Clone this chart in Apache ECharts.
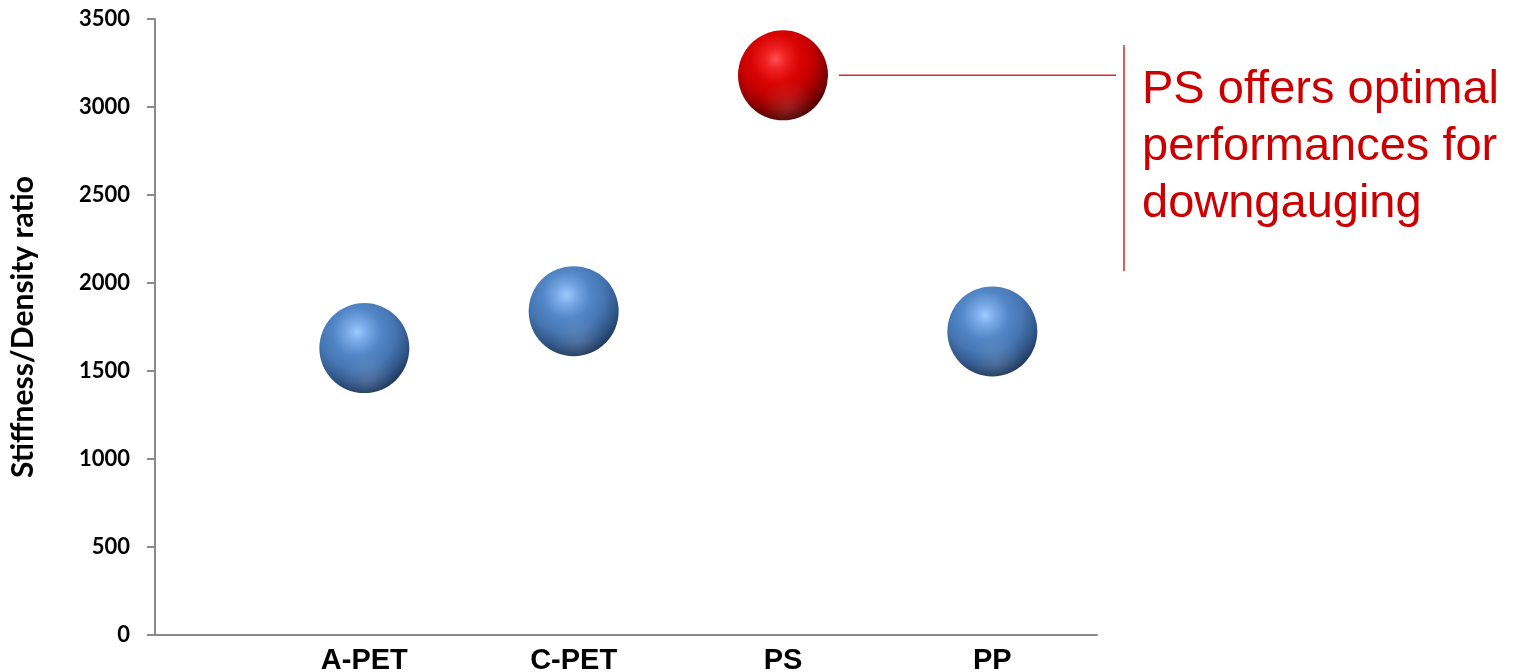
<!DOCTYPE html>
<html>
<head>
<meta charset="utf-8">
<script src="https://cdn.jsdelivr.net/npm/echarts@6/dist/echarts.min.js"></script>
<style>
  html, body { margin: 0; padding: 0; background: #ffffff; }
  #chart { width: 1514px; height: 672px; }
</style>
</head>
<body>
<div id="chart"></div>
<script>
// Materials and their stiffness-to-density ratio
const materials = ['A-PET', 'C-PET', 'PS', 'PP'];
const ratios = [1630, 1840, 3180, 1725];
const highlighted = 'PS';
const yTicks = [0, 500, 1000, 1500, 2000, 2500, 3000, 3500];
const calloutLines = ['PS offers optimal', 'performances for', 'downgauging'];

// Glossy sphere shading
const blueBall = new echarts.graphic.RadialGradient(0.42, 0.32, 0.76, [
  { offset: 0, color: '#9ccbff' },
  { offset: 0.15, color: '#78a9e6' },
  { offset: 0.35, color: '#5286c6' },
  { offset: 0.55, color: '#4676b3' },
  { offset: 0.74, color: '#33598c' },
  { offset: 0.89, color: '#1f3b60' },
  { offset: 1, color: '#0e1f35' }
]);
const redBall = new echarts.graphic.RadialGradient(0.42, 0.32, 0.76, [
  { offset: 0, color: '#ff5050' },
  { offset: 0.15, color: '#ef2222' },
  { offset: 0.35, color: '#da0404' },
  { offset: 0.55, color: '#c20000' },
  { offset: 0.74, color: '#8a0000' },
  { offset: 0.89, color: '#520000' },
  { offset: 1, color: '#260000' }
]);
const rimLight = new echarts.graphic.RadialGradient(0.55, 0.84, 0.3, [
  { offset: 0, color: 'rgba(255,255,255,0.12)' },
  { offset: 1, color: 'rgba(255,255,255,0)' }
]);

const points = materials.map((m, i) => ({
  value: [i + 1, ratios[i]],
  itemStyle: { color: m === highlighted ? redBall : blueBall, opacity: 1 }
}));

const chart = echarts.init(document.getElementById('chart'));
chart.setOption({
  animation: false,
  grid: { left: 155, right: 417, top: 19, bottom: 37, outerBoundsMode: 'none', containLabel: false },
  xAxis: {
    type: 'value',
    min: 0,
    max: 4.5,
    interval: 1,
    splitLine: { show: false },
    axisTick: { show: false },
    axisLine: { show: true, lineStyle: { color: '#8a8a8a', width: 2 } },
    axisLabel: {
      margin: 11,
      fontFamily: 'Liberation Sans',
      fontWeight: 'bold',
      fontSize: 29,
      color: '#000',
      formatter: v => (Number.isInteger(v) && v >= 1 && v <= materials.length) ? materials[v - 1] : ''
    }
  },
  yAxis: {
    type: 'value',
    min: yTicks[0],
    max: yTicks[yTicks.length - 1],
    interval: yTicks[1] - yTicks[0],
    name: 'Stiffness/Density ratio',
    nameLocation: 'middle',
    nameRotate: 90,
    nameGap: 117,
    nameTextStyle: { fontFamily: 'Lato', fontWeight: 'bold', fontSize: 30, color: '#000' },
    splitLine: { show: false },
    axisLine: { show: true, lineStyle: { color: '#8a8a8a', width: 2 } },
    axisTick: { show: true, length: 8, lineStyle: { color: '#8a8a8a', width: 2 } },
    axisLabel: {
      margin: 25,
      fontFamily: 'Lato',
      fontWeight: 'bold',
      fontSize: 22,
      color: '#000',
      formatter: v => String(v)
    }
  },
  series: [
    {
      type: 'scatter',
      symbol: 'circle',
      symbolSize: 90,
      data: points,
      itemStyle: { opacity: 1 },
      z: 2
    },
    {
      type: 'scatter',
      symbol: 'circle',
      symbolSize: 90,
      silent: true,
      itemStyle: { color: rimLight, opacity: 1 },
      data: materials.map((m, i) => [i + 1, ratios[i]]),
      z: 3
    }
  ]
});

// Callout for the highlighted material
const hi = materials.indexOf(highlighted);
const centre = chart.convertToPixel({ gridIndex: 0 }, [hi + 1, ratios[hi]]);
const barX = 1124;
chart.setOption({
  graphic: [
    {
      type: 'line',
      shape: { x1: centre[0] + 56, y1: centre[1], x2: barX - 8, y2: centre[1] },
      style: { stroke: '#d42a2a', lineWidth: 1.5 }
    },
    {
      type: 'line',
      shape: { x1: barX, y1: 45, x2: barX, y2: 271 },
      style: { stroke: '#d42a2a', lineWidth: 1.5 }
    },
    {
      type: 'text',
      left: 1142,
      top: 62,
      style: {
        text: calloutLines.join('\n'),
        fill: '#cc0000',
        font: '47px "Liberation Sans", Arial, sans-serif',
        lineHeight: 57
      }
    }
  ]
});
</script>
</body>
</html>
